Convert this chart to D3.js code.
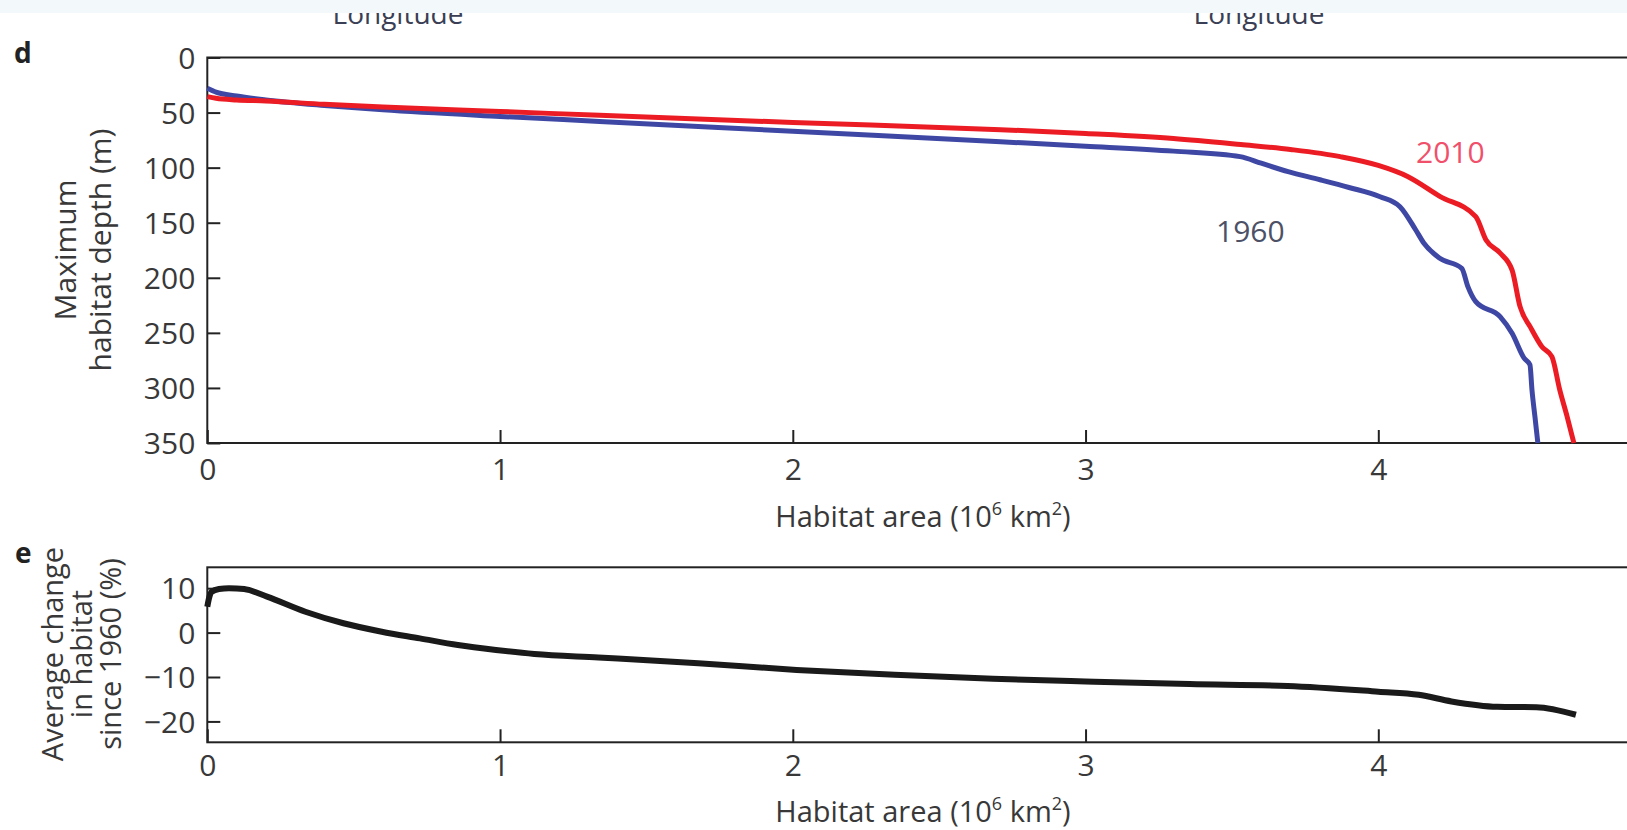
<!DOCTYPE html>
<html>
<head>
<meta charset="utf-8">
<script src="https://cdn.jsdelivr.net/npm/d3@7"></script>
<style>
  html, body { margin: 0; padding: 0; background: #fff; }
  svg { display: block; }
  text { font-family: "Open Sans", "Noto Sans", sans-serif; }
</style>
</head>
<body>
<svg id="fig" width="1627" height="830"></svg>
<script>
// Panel d: maximum habitat depth against cumulative habitat area
const area1960  = [0, 0.03, 0.1, 0.2, 0.4, 0.6, 1.0, 1.34, 2.0, 2.71, 3.0, 3.3, 3.528, 3.6, 3.692, 3.801, 3.9, 4.006, 4.074, 4.128, 4.156, 4.21, 4.285, 4.306, 4.333, 4.416, 4.457, 4.498, 4.518, 4.525, 4.535, 4.545];
const depth1960 = [28, 31.5, 35, 38.5, 43.5, 47.5, 53.5, 58, 67, 76.5, 80.5, 85, 90, 96, 103.7, 111, 118, 126.4, 135.5, 156.6, 168.7, 182.3, 191.4, 208, 221.7, 235.3, 250.4, 273, 279, 302, 326, 350];
const area2010  = [0, 0.03, 0.1, 0.2, 0.4, 0.6, 1.0, 1.34, 2.0, 2.71, 3.0, 3.3, 3.53, 3.7, 3.87, 4.0, 4.1, 4.21, 4.333, 4.368, 4.416, 4.457, 4.484, 4.52, 4.559, 4.593, 4.62, 4.645, 4.668];
const depth2010 = [35.5, 37, 38.5, 39.5, 42.5, 45, 49, 52.5, 59, 65.5, 69, 73.5, 79, 83.5, 90, 98, 108, 126, 144.5, 165.7, 177.5, 193, 226, 245, 262.6, 271.6, 302, 326, 350];

// Panel e: average change in habitat since 1960
const areaChange = [0, 0.005, 0.015, 0.04, 0.074, 0.126, 0.204, 0.335, 0.465, 0.596, 0.726, 0.856, 0.986, 1.117, 1.336, 1.677, 2.013, 2.348, 2.684, 3.0, 3.355, 3.69, 4.0, 4.138, 4.25, 4.406, 4.54, 4.675];
const pctChange  = [5.8, 7.5, 9.2, 9.8, 10.0, 9.8, 8.1, 4.7, 2.1, 0.2, -1.3, -2.8, -3.9, -4.8, -5.6, -6.9, -8.4, -9.5, -10.4, -11.0, -11.6, -12.0, -13.3, -14.0, -15.5, -16.7, -16.8, -18.5];

// Tick values
const areaTicks   = [0, 1, 2, 3, 4];
const depthTicks  = [0, 50, 100, 150, 200, 250, 300, 350];
const changeTicks = [-20, -10, 0, 10];

const svg = d3.select("#fig");
const TXT = "#383838";

// shared horizontal scale (frame continues past the right edge)
const x = d3.scaleLinear().domain([0, 5]).range([207.3, 207.3 + 5 * 292.75]);

const yD = d3.scaleLinear().domain([0, 350]).range([57.5, 443]);
const yE = d3.scaleLinear().domain([-24.7, 14.7]).range([742.3, 567.3]);

function fmt(v) { return v < 0 ? "\u2212" + Math.abs(v) : String(v); }

function frame(y) {
  const [y1, y0] = y.range();
  svg.append("rect")
    .attr("x", x.range()[0]).attr("y", Math.min(y0, y1))
    .attr("width", x.range()[1] - x.range()[0])
    .attr("height", Math.abs(y1 - y0))
    .attr("fill", "none").attr("stroke", "#222").attr("stroke-width", 2);
}

function axes(y, yTicks, xLabelY, titleY) {
  const bottom = Math.max(...y.range());
  // y axis (inward ticks)
  const ya = svg.append("g").attr("transform", `translate(${x.range()[0]},0)`)
    .call(d3.axisLeft(y).tickValues(yTicks).tickSizeInner(-13).tickSizeOuter(0).tickPadding(0).tickFormat(fmt));
  ya.select(".domain").remove();
  ya.selectAll(".tick line").attr("stroke", "#222").attr("stroke-width", 2);
  ya.selectAll(".tick text").attr("x", -12).attr("dy", "0.36em")
    .attr("font-size", 30).attr("fill", TXT).attr("font-family", "Open Sans");

  // x axis (inward ticks)
  const xa = svg.append("g").attr("transform", `translate(0,${bottom})`)
    .call(d3.axisBottom(x).tickValues(areaTicks).tickSizeInner(-13).tickSizeOuter(0).tickFormat(d3.format("d")));
  xa.select(".domain").remove();
  xa.selectAll(".tick line").attr("stroke", "#222").attr("stroke-width", 2);
  xa.selectAll(".tick text").attr("y", xLabelY - bottom).attr("dy", 0)
    .attr("font-size", 30).attr("fill", TXT).attr("font-family", "Open Sans");

  // x axis title
  const t = svg.append("text").attr("x", 923).attr("y", titleY)
    .attr("text-anchor", "middle").attr("font-size", 29).attr("fill", TXT);
  t.append("tspan").text("Habitat area (10");
  t.append("tspan").attr("font-size", 18).attr("dy", -12).text("6");
  t.append("tspan").attr("dy", 12).text(" km");
  t.append("tspan").attr("font-size", 18).attr("dy", -12).text("2");
  t.append("tspan").attr("dy", 12).text(")");
}

// "Longitude" captions from the panels above, clipped by the page strip
[398, 1259].forEach(cx => {
  svg.append("text").attr("x", cx).attr("y", 24).attr("text-anchor", "middle")
    .attr("font-size", 28).attr("fill", "#3a3f55").text("Longitude");
});
svg.append("rect").attr("x", 0).attr("y", 0).attr("width", 1627).attr("height", 13).attr("fill", "#f3f8fb");

// ---------- panel d ----------
frame(yD);
axes(yD, depthTicks, 480, 527);

const lineD = d3.line().x(d => x(d[0])).y(d => yD(d[1])).curve(d3.curveMonotoneX);
const s1960 = area1960.map((a, i) => [a, depth1960[i]]);
const s2010 = area2010.map((a, i) => [a, depth2010[i]]);

svg.append("path").datum(s1960).attr("d", lineD)
  .attr("fill", "none").attr("stroke", "#3e48a4").attr("stroke-width", 5)
  .attr("stroke-linejoin", "round").attr("stroke-linecap", "butt");
svg.append("path").datum(s2010).attr("d", lineD)
  .attr("fill", "none").attr("stroke", "#ec1c24").attr("stroke-width", 5)
  .attr("stroke-linejoin", "round").attr("stroke-linecap", "butt");

svg.append("text").attr("x", 1216).attr("y", 242).attr("font-size", 30)
  .attr("fill", "#4d5166").text("1960");
svg.append("text").attr("x", 1416).attr("y", 163).attr("font-size", 30)
  .attr("fill", "#f0506a").text("2010");

svg.append("text").attr("x", 14).attr("y", 63).attr("font-size", 28)
  .attr("font-weight", "bold").attr("fill", "#222").text("d");

const tD = svg.append("g").attr("transform", "translate(0,250) rotate(-90)");
tD.append("text").attr("x", 0).attr("y", 76).attr("text-anchor", "middle")
  .attr("font-size", 30).attr("fill", TXT).text("Maximum");
tD.append("text").attr("x", 0).attr("y", 111).attr("text-anchor", "middle")
  .attr("font-size", 30).attr("fill", TXT).text("habitat depth (m)");

// ---------- panel e ----------
frame(yE);
axes(yE, changeTicks, 776, 822);

const lineE = d3.line().x(d => x(d[0])).y(d => yE(d[1])).curve(d3.curveMonotoneX);
svg.append("path").datum(areaChange.map((a, i) => [a, pctChange[i]])).attr("d", lineE)
  .attr("fill", "none").attr("stroke", "#1a1a1a").attr("stroke-width", 6)
  .attr("stroke-linejoin", "round").attr("stroke-linecap", "butt");

svg.append("text").attr("x", 15).attr("y", 563).attr("font-size", 28)
  .attr("font-weight", "bold").attr("fill", "#222").text("e");

const tE = svg.append("g").attr("transform", "translate(0,654) rotate(-90)");
["Average change", "in habitat", "since 1960 (%)"].forEach((s, i) => {
  tE.append("text").attr("x", 0).attr("y", 63 + i * 29).attr("text-anchor", "middle")
    .attr("font-size", 29).attr("fill", TXT).text(s);
});
</script>
</body>
</html>
